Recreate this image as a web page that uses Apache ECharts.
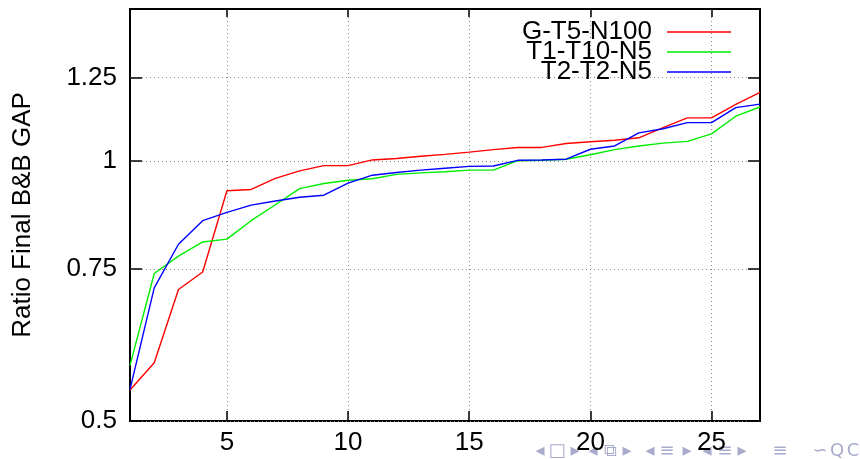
<!DOCTYPE html>
<html>
<head>
<meta charset="utf-8">
<script src="https://cdn.jsdelivr.net/npm/echarts@6/dist/echarts.min.js"></script>
<style>
  html, body { margin: 0; padding: 0; background: #fff; }
  #chart { width: 860px; height: 459px; }
</style>
</head>
<body>
<div id="chart"></div>
<script>
// instance index 1..27, sorted ratio per solver config
const instances = Array.from({ length: 27 }, (_, i) => i + 1);
const seriesNames = ['G-T5-N100', 'T1-T10-N5', 'T2-T2-N5'];
const gT5N100 = [0.543, 0.584, 0.710, 0.744, 0.924, 0.927, 0.955, 0.974, 0.988, 0.988,
  1.003, 1.007, 1.013, 1.018, 1.024, 1.031, 1.037, 1.037, 1.048, 1.053,
  1.057, 1.064, 1.093, 1.122, 1.122, 1.163, 1.201];
const t1T10N5 = [0.580, 0.741, 0.776, 0.806, 0.812, 0.853, 0.890, 0.929, 0.942, 0.950,
  0.954, 0.965, 0.969, 0.972, 0.976, 0.976, 1.001, 1.002, 1.005, 1.017,
  1.031, 1.041, 1.049, 1.054, 1.075, 1.127, 1.155];
const t2T2N5 = [0.544, 0.713, 0.801, 0.853, 0.872, 0.889, 0.899, 0.908, 0.913, 0.943,
  0.963, 0.970, 0.976, 0.981, 0.986, 0.987, 1.002, 1.003, 1.005, 1.032,
  1.041, 1.078, 1.090, 1.108, 1.108, 1.153, 1.164];
const xTicks = [5, 10, 15, 20, 25];
const yTicks = [0.5, 0.75, 1, 1.25];
const colors = ['#ff0000', '#00ee00', '#0000ff'];

// beamer navigation glyphs along the bottom edge
const navGlyphs = ['◂', '□', '▸', '◂', '⧉', '▸', '◂', '≡', '▸', '◂', '≡', '▸', '≡', '∽', 'Q', 'C'];
const navX = [540, 557, 575, 593, 610, 627, 650, 667, 687, 707, 725, 742, 780, 820, 837, 853];

const font = 'Liberation Sans, Arial, sans-serif';
const dotted = { color: '#888', width: 1, type: [1, 3] };
const tickStyle = { color: '#000', width: 1.5 };

function pairs(vals) {
  return vals.map((v, i) => [instances[i], v]);
}

const chart = echarts.init(document.getElementById('chart'));

chart.setOption({
  animation: false,
  grid: { left: 130, right: 100, top: 9, bottom: 38, show: true, borderColor: '#000', borderWidth: 2 },
  legend: {
    right: 124, top: 14, orient: 'vertical', align: 'right',
    itemWidth: 64, itemHeight: 1.5, itemGap: -6, icon: 'rect',
    textStyle: { fontFamily: font, fontSize: 26, color: '#000', padding: [0, 10, 0, 0] },
    data: seriesNames
  },
  xAxis: [{
    type: 'value', min: 1, max: 27,
    axisLine: { show: false },
    axisTick: { inside: true, length: 10, customValues: xTicks, lineStyle: tickStyle },
    axisLabel: { customValues: xTicks, fontFamily: font, fontSize: 26, color: '#000', margin: 9 },
    splitLine: { show: true, lineStyle: dotted }
  }, {
    type: 'value', min: 1, max: 27, position: 'top',
    axisLine: { show: false },
    axisTick: { inside: true, length: 8, customValues: xTicks, lineStyle: tickStyle },
    axisLabel: { show: false },
    splitLine: { show: false }
  }],
  yAxis: [{
    type: 'log', min: 0.5, max: 1.5,
    name: 'Ratio Final B&B GAP', nameLocation: 'middle', nameGap: 94,
    nameTextStyle: { fontFamily: font, fontSize: 26, color: '#000' },
    axisLine: { show: false },
    axisTick: { inside: true, length: 12, customValues: yTicks, lineStyle: tickStyle },
    axisLabel: { customValues: yTicks, fontFamily: font, fontSize: 26, color: '#000', margin: 13 },
    splitLine: { show: true, lineStyle: dotted }
  }, {
    type: 'log', min: 0.5, max: 1.5, position: 'right',
    axisLine: { show: false },
    axisTick: { inside: true, length: 12, customValues: yTicks, lineStyle: tickStyle },
    axisLabel: { show: false },
    splitLine: { show: false }
  }],
  series: [
    { name: seriesNames[0], type: 'line', data: pairs(gT5N100), symbol: 'none', color: colors[0], lineStyle: { width: 1.4 } },
    { name: seriesNames[1], type: 'line', data: pairs(t1T10N5), symbol: 'none', color: colors[1], lineStyle: { width: 1.4 } },
    { name: seriesNames[2], type: 'line', data: pairs(t2T2N5), symbol: 'none', color: colors[2], lineStyle: { width: 1.4 } }
  ],
  graphic: navGlyphs.map((g, i) => ({
    type: 'text', x: navX[i], y: 451, silent: true,
    style: { text: g, fontSize: 18, fill: '#a9abcc', fontFamily: 'DejaVu Sans', align: 'center', verticalAlign: 'middle' }
  }))
});
</script>
</body>
</html>
